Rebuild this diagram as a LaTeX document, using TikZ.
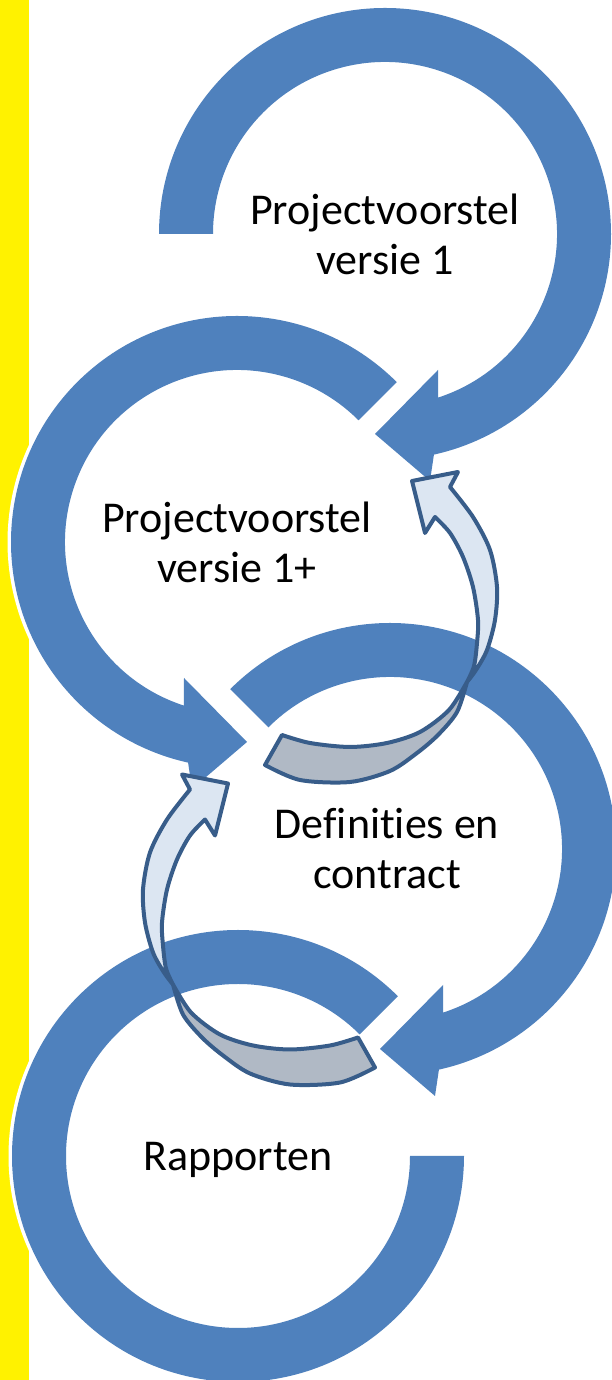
\documentclass[tikz,border=0pt]{standalone}
\usepackage{fontspec}
\setmainfont{Carlito}[Ligatures=NoCommon]
\usepackage{tikz}

\definecolor{ringblue}{HTML}{4F81BD}
\definecolor{frontblue}{HTML}{DCE6F2}
\definecolor{backgray}{HTML}{B0B9C5}
\definecolor{edgeblue}{HTML}{385D8A}

% curved connector arrow, front face and back face
\newcommand{\bentarrow}{%
  \filldraw[backface] (467,698)
    -- plot[smooth] coordinates {(467,698) (449,670) (420,648) (387,637) (350,633) (310,637) (282,645)}
    -- (265,615)
    -- plot[smooth] coordinates {(265,615) (300,600) (350,598) (390,609) (417,627) (438,645) (457,668) (467,698)}
    -- cycle;
  \filldraw[frontface] (412,899) -- (458,908) -- (450,893)
    -- plot[smooth] coordinates {(450,893) (473,863) (490,830) (497,793) (495,760) (487,730) (476,710) (467,698)}
    -- plot[smooth] coordinates {(467,698) (474,714) (477,737) (478,760) (473,793) (463,823) (450,847) (435,863)}
    -- (425,847) -- cycle;
}

\begin{document}
\begin{tikzpicture}[x=1pt,y=1pt,
  ringshape/.style={fill=ringblue,preaction={draw=white,line width=7pt,line join=round}},
  frontface/.style={fill=frontblue,draw=edgeblue,line width=4pt,line join=round},
  backface/.style={fill=backgray,draw=edgeblue,line width=4pt,line join=round},
  steptext/.style={font=\fontsize{44}{50}\selectfont,align=center,inner sep=0pt}]
  \useasboundingbox (0,0) rectangle (612,1380);
  \clip (0,0) rectangle (612,1380);
  \fill[yellow] (0,0) rectangle (29,1380);

  \coordinate (c1) at (385,1146);
  \coordinate (c2) at (237,838);
  \coordinate (c3) at (390,531);
  \coordinate (c4) at (238,224);

  % the four round arrows
  \begin{scope}[shift={(c1)}]
    \fill[ringshape] (180:226) arc[start angle=180,end angle=-77.5,radius=226]
      -- (45,-247) -- (-10,-200) -- (53,-136)
      -- (-72:172) arc[start angle=-72,end angle=180,radius=172] -- cycle;
  \end{scope}
  \begin{scope}[shift={(c2)}]
    \fill[ringshape] (45:226) arc[start angle=45,end angle=257.5,radius=226]
      -- (-45,-247) -- (10,-200) -- (-53,-136)
      -- (252:172) arc[start angle=252,end angle=45,radius=172] -- cycle;
  \end{scope}
  \begin{scope}[shift={(c3)}]
    \fill[ringshape] (135:226) arc[start angle=135,end angle=-77.5,radius=226]
      -- (45,-247) -- (-10,-200) -- (53,-136)
      -- (-72:172) arc[start angle=-72,end angle=135,radius=172] -- cycle;
  \end{scope}
  \begin{scope}[shift={(c4)}]
    \fill[ringshape] (45:226) arc[start angle=45,end angle=360,radius=226]
      -- (0:172) arc[start angle=360,end angle=45,radius=172] -- cycle;
  \end{scope}

  % connectors going back
  \bentarrow
  \begin{scope}[shift={(640,-302.5)},xscale=-1]
    \bentarrow
  \end{scope}

  \node[steptext] (voorstel) at (c1) {Projectvoorstel\\versie 1};
  \node[steptext] (voorstelplus) at (c2) {Projectvoorstel\\versie 1+};
  \node[steptext,xshift=-3pt] (definities) at (c3) {Definities en\\contract};
  \node[steptext,yshift=-4pt] (rapporten) at (c4) {Rapporten};
\end{tikzpicture}
\end{document}
